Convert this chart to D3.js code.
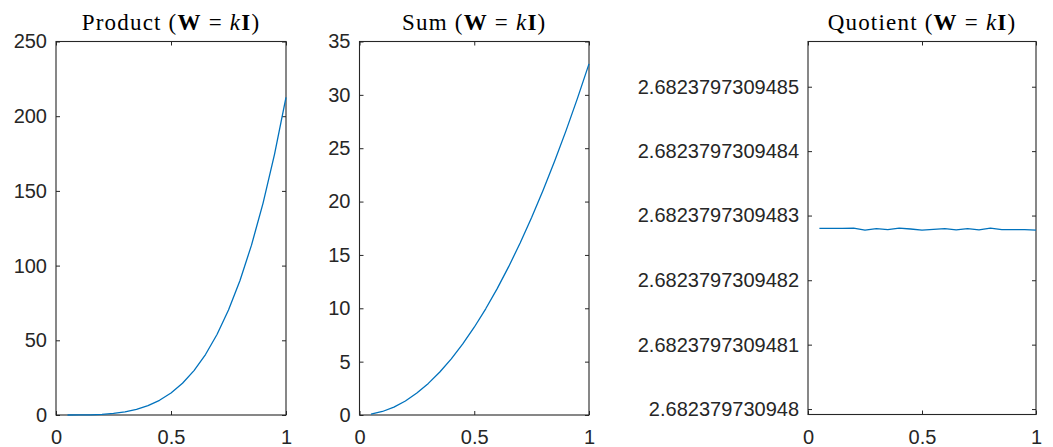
<!DOCTYPE html>
<html>
<head>
<meta charset="utf-8">
<script src="https://cdn.jsdelivr.net/npm/d3@7"></script>
<style>
  html, body { margin: 0; padding: 0; background: #fff; }
  svg { display: block; }
  .tick text { font-family: "Liberation Sans", Arial, Helvetica, sans-serif; font-size: 20px; fill: #262626; }
  .title { font-family: "Liberation Serif", "Times New Roman", serif; font-size: 23px; fill: #000; letter-spacing: 1.2px; }
</style>
</head>
<body>
<svg id="chart" width="1053" height="447"></svg>
<script>
// Sample points k = 0.05 ... 1
const kValues = [0.05, 0.10, 0.15, 0.20, 0.25, 0.30, 0.35, 0.40, 0.45, 0.50,
                 0.55, 0.60, 0.65, 0.70, 0.75, 0.80, 0.85, 0.90, 0.95, 1.00];

const productValues = [0.002, 0.03, 0.14, 0.43, 1.02, 2.06, 3.74, 6.24, 9.83, 14.74,
                       21.28, 29.74, 40.48, 53.85, 70.22, 90.04, 113.7, 141.7, 174.5, 212.6];

const sumValues = [0.082, 0.329, 0.740, 1.316, 2.056, 2.961, 4.030, 5.264, 6.662, 8.225,
                   9.952, 11.844, 13.900, 16.121, 18.506, 21.056, 23.770, 26.649, 29.692, 32.900];

const quotientValues = [2.6823797309482802, 2.6823797309482802, 2.6823797309482804, 2.6823797309482805,
                        2.6823797309482776, 2.6823797309482797, 2.6823797309482786, 2.6823797309482807,
                        2.6823797309482795, 2.6823797309482776, 2.6823797309482787, 2.6823797309482797,
                        2.6823797309482781, 2.6823797309482797, 2.6823797309482781, 2.6823797309482807,
                        2.6823797309482786, 2.6823797309482786, 2.6823797309482786, 2.6823797309482776];

const xTicks = [0, 0.5, 1];
const xTickLabels = ["0", "0.5", "1"];

const productTicks = [0, 50, 100, 150, 200, 250];
const sumTicks = [0, 5, 10, 15, 20, 25, 30, 35];
const quotientTicks = [2.682379730948, 2.6823797309481, 2.6823797309482,
                       2.6823797309483, 2.6823797309484, 2.6823797309485];
const quotientTickLabels = ["2.682379730948", "2.6823797309481", "2.6823797309482",
                            "2.6823797309483", "2.6823797309484", "2.6823797309485"];

const titleNames = ["Product", "Sum", "Quotient"];

const svg = d3.select("#chart");
const lineColor = "#0072BD";
const axisColor = "#262626";
const tickLen = 4;

const panels = [
  { name: titleNames[0], values: productValues, left: 56, right: 286, top: 41.5, bottom: 415,
    yDomain: [0, 250], yTicks: productTicks, yLabels: productTicks.map(String) },
  { name: titleNames[1], values: sumValues, left: 359.5, right: 589, top: 41.5, bottom: 415,
    yDomain: [0, 35], yTicks: sumTicks, yLabels: sumTicks.map(String) },
  { name: titleNames[2], values: quotientValues, left: 808, right: 1036, top: 41.5, bottom: 414.5,
    yDomain: [2.6823797309479915, 2.682379730948570], yTicks: quotientTicks, yLabels: quotientTickLabels }
];

panels.forEach(p => {
  const x = d3.scaleLinear().domain([0, 1]).range([p.left, p.right]);
  const y = d3.scaleLinear().domain(p.yDomain).range([p.bottom, p.top]);
  const g = svg.append("g");

  // left axis with labels, ticks pointing inward
  const yl = g.append("g").attr("transform", `translate(${p.left},0)`)
    .call(d3.axisLeft(y).tickValues(p.yTicks)
      .tickFormat((d, i) => p.yLabels[i])
      .tickSizeInner(-tickLen).tickSizeOuter(0).tickPadding(9));
  // right axis, ticks only
  const yr = g.append("g").attr("transform", `translate(${p.right},0)`)
    .call(d3.axisRight(y).tickValues(p.yTicks).tickFormat("")
      .tickSizeInner(-tickLen).tickSizeOuter(0));
  // bottom axis with labels
  const xb = g.append("g").attr("transform", `translate(0,${p.bottom})`)
    .call(d3.axisBottom(x).tickValues(xTicks)
      .tickFormat((d, i) => xTickLabels[i])
      .tickSizeInner(-tickLen).tickSizeOuter(0).tickPadding(15));
  // top axis, ticks only
  const xt = g.append("g").attr("transform", `translate(0,${p.top})`)
    .call(d3.axisTop(x).tickValues(xTicks).tickFormat("")
      .tickSizeInner(-tickLen).tickSizeOuter(0));

  [yl, yr, xb, xt].forEach(a => {
    a.select(".domain").remove();
    a.selectAll(".tick line").attr("stroke", axisColor).attr("stroke-width", 1);
    a.attr("font-family", null).attr("font-size", null);
  });

  // axes box
  g.append("rect")
    .attr("x", p.left).attr("y", p.top)
    .attr("width", p.right - p.left).attr("height", p.bottom - p.top)
    .attr("fill", "none").attr("stroke", axisColor).attr("stroke-width", 1.1);

  // data line
  const line = d3.line().x((d, i) => x(kValues[i])).y(d => y(d));
  g.append("path")
    .datum(p.values)
    .attr("d", line)
    .attr("fill", "none")
    .attr("stroke", lineColor)
    .attr("stroke-width", 1.3)
    .attr("stroke-linejoin", "round");

  // title: Name (W = kI)
  const t = g.append("text")
    .attr("class", "title")
    .attr("x", (p.left + p.right) / 2)
    .attr("y", 30)
    .attr("text-anchor", "middle");
  t.append("tspan").text(p.name + " (");
  t.append("tspan").attr("font-weight", "bold").text("W");
  t.append("tspan").attr("dx", 7).text("=");
  t.append("tspan").attr("dx", 7).attr("font-style", "italic").text("k");
  t.append("tspan").attr("font-weight", "bold").text("I");
  t.append("tspan").text(")");
});
</script>
</body>
</html>
